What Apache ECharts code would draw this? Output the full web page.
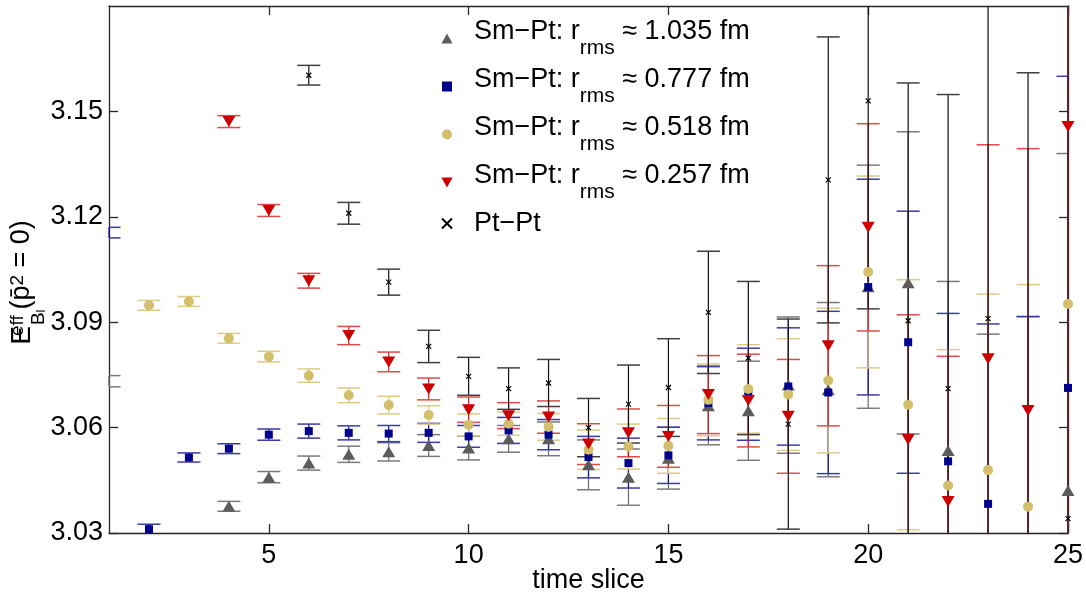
<!DOCTYPE html>
<html>
<head>
<meta charset="utf-8">
<script src="https://cdn.jsdelivr.net/npm/echarts@6/dist/echarts.min.js"></script>
<style>
html,body{margin:0;padding:0;background:#fff;}
#chart{width:1086px;height:594px;}
</style>
</head>
<body>
<div id="chart"></div>
<script>
// ---- data ----
const timeSlices = [1,2,3,4,5,6,7,8,9,10,11,12,13,14,15,16,17,18,19,20,21,22,23,24,25];
const xTickValues = [5,10,15,20,25];
const yTickValues = [3.03,3.06,3.09,3.12,3.15];

const seriesNames = [
  'Sm\u2212Pt: r_rms \u2248 1.035 fm',
  'Sm\u2212Pt: r_rms \u2248 0.777 fm',
  'Sm\u2212Pt: r_rms \u2248 0.518 fm',
  'Sm\u2212Pt: r_rms \u2248 0.257 fm',
  'Pt\u2212Pt'
];

const r1035Val = [3.0732,null,null,3.0376,3.0459,3.0499,3.0524,3.0531,3.0549,3.0542,3.0568,3.0568,3.0494,3.0459,3.0513,3.0662,3.0648,3.0721,3.0708,3.1001,3.1012,3.0535,3.0250,3.0200,3.0421];
const r1035Err = [0.0016,null,null,0.0014,0.0016,0.0020,0.0023,0.0026,0.0031,0.0034,0.0038,0.0048,0.0071,0.0080,0.0088,0.0111,0.0141,0.0194,0.0248,0.0346,0.0430,0.0481,0.0616,0.0716,0.0959];

const r0777Val = [3.1155,3.0311,3.0515,3.0540,3.0580,3.0590,3.0585,3.0583,3.0585,3.0575,3.0592,3.0580,3.0516,3.0499,3.0521,3.0670,3.0695,3.0717,3.0700,3.1000,3.0843,3.0504,3.0383,3.0210,3.0713];
const r0777Err = [0.0015,0.0014,0.0013,0.0014,0.0016,0.0020,0.0020,0.0023,0.0027,0.0031,0.0037,0.0043,0.0059,0.0071,0.0080,0.0105,0.0131,0.0167,0.0231,0.0307,0.0373,0.0421,0.0512,0.0706,0.0887];

const r0518Val = [null,3.0948,3.0959,3.0854,3.0802,3.0748,3.0692,3.0664,3.0636,3.0608,3.0611,3.0602,3.0537,3.0546,3.0548,3.0679,3.0710,3.0694,3.0734,3.1043,3.0665,3.0435,3.0479,3.0375,3.0952];
const r0518Err = [null,0.0014,0.0014,0.0014,0.0015,0.0019,0.0021,0.0025,0.0026,0.0031,0.0033,0.0038,0.0056,0.0064,0.0078,0.0102,0.0126,0.0159,0.0206,0.0273,0.0356,0.0387,0.0501,0.0632,0.0850];

const r0257Val = [null,null,null,3.1471,3.1218,3.1018,3.0862,3.0787,3.0710,3.0651,3.0634,3.0630,3.0553,3.0585,3.0575,3.0694,3.0677,3.0632,3.0833,3.1170,3.0566,3.0390,3.0796,3.0649,3.1457];
const r0257Err = [null,null,null,0.0017,0.0017,0.0021,0.0026,0.0028,0.0031,0.0036,0.0037,0.0046,0.0058,0.0068,0.0088,0.0111,0.0132,0.0162,0.0228,0.0295,0.0355,0.0413,0.0609,0.0745,0.1200];

const ptptVal = [null,null,null,null,null,3.1603,3.1210,3.1014,3.0831,3.0746,3.0711,3.0727,3.0600,3.0667,3.0714,3.0928,3.0798,3.0610,3.1305,3.1530,3.0904,3.0711,3.0910,3.0250,3.0341];
const ptptErr = [null,null,null,null,null,0.0028,0.0031,0.0037,0.0046,0.0054,0.0059,0.0067,0.0083,0.0111,0.0139,0.0174,0.0218,0.0299,0.0407,0.0592,0.0677,0.0837,0.1100,0.1360,0.1600];

// ---- styling ----
const FONT = "'Liberation Sans', Arial, sans-serif";
const AX = '#262626';
const firstMarkerSlice = 2; // markers at the first slice sit on the axis and are not shown
const styles = [
  {color:'#5c5c5c', bar:'#6a6a6a', cap:'#7a7a7a', symbol:'path://M5,0L10,9L0,9Z', size:[13,11]},
  {color:'#00008c', bar:'#10109a', cap:'#3a3aa8', symbol:'path://M0,0H10V10H0Z', size:[8,8]},
  {color:'#d3bf6b', bar:'#d8c67a', cap:'#dccb85', symbol:'circle', size:10},
  {color:'#cc0000', bar:'#d41a1a', cap:'#e04a4a', symbol:'path://M0,0L10,0L5,9Z', size:[13,11]},
  {color:'#000000', bar:'#111111', cap:'#404040', symbol:'path://M0,0L10,10M10,0L0,10', size:[5,5]}
];
const valueSets = [r1035Val, r0777Val, r0518Val, r0257Val, ptptVal];
const errSets = [r1035Err, r0777Err, r0518Err, r0257Err, ptptErr];
const CAP_HALF = 11.5;

function errRender(st){
  return function(params, api){
    const t = api.value(0), v = api.value(1), e = api.value(2);
    const cs = params.coordSys;
    const pT = api.coord([t, v + e]);
    const pB = api.coord([t, v - e]);
    const x = pT[0];
    const yMin = cs.y, yMax = cs.y + cs.height, xMin = cs.x, xMax = cs.x + cs.width;
    const ch = [];
    const y1 = Math.max(pT[1], yMin), y2 = Math.min(pB[1], yMax);
    if (y2 > y1) ch.push({type:'line', shape:{x1:x,y1:y1,x2:x,y2:y2}, style:{stroke:st.bar, lineWidth:1.2}});
    const cx1 = Math.max(x - CAP_HALF, xMin), cx2 = Math.min(x + CAP_HALF, xMax);
    [pT[1], pB[1]].forEach(function(cy){
      if (cy >= yMin - 0.5 && cy <= yMax + 0.5) ch.push({type:'line', shape:{x1:cx1,y1:cy,x2:cx2,y2:cy}, style:{stroke:st.cap, lineWidth:1.5}});
    });
    return {type:'group', children: ch};
  };
}

const series = [];
for (let i = 0; i < 5; i++) {
  const d = [];
  timeSlices.forEach(function(t, k){ if (valueSets[i][k] != null) d.push([t, valueSets[i][k], errSets[i][k]]); });
  series.push({type:'custom', name:'err' + i, silent:true, z:2 + i*0.01, renderItem: errRender(styles[i]), data:d, encode:{x:0, y:1}});
}
for (let i = 0; i < 5; i++) {
  const d = [];
  timeSlices.forEach(function(t, k){ if (valueSets[i][k] != null && t >= firstMarkerSlice) d.push([t, valueSets[i][k]]); });
  const st = styles[i];
  const s = {type:'scatter', name:seriesNames[i], z:5, symbol:st.symbol, symbolSize:st.size, data:d, silent:true,
    itemStyle:{color:st.color, opacity:1}};
  if (i === 4) s.itemStyle = {color:'#000', borderColor:'#000', borderWidth:1.2, opacity:1};
  series.push(s);
}

const chart = echarts.init(document.getElementById('chart'), null, {renderer:'canvas'});
const axisCommon = {
  axisLine:{show:true, onZero:false, lineStyle:{color:AX, width:1.3}},
  splitLine:{show:false}
};
chart.setOption({
  animation:false,
  backgroundColor:'#ffffff',
  textStyle:{fontFamily:FONT},
  grid:{left:109, right:18, top:6, bottom:61, containLabel:false, outerBoundsMode:'none'},
  legend:{
    orient:'vertical', left:441, top:18, padding:0, itemGap:7, selectedMode:false,
    itemWidth:44, itemHeight:10,
    data: seriesNames.map(function(n, i){ return {name:n, icon:styles[i].symbol}; }),
    formatter:function(name){
      if (name.indexOf('_rms') >= 0) {
        const p = name.split('_rms');
        return '{m|' + p[0] + '}{s|rms}{m|' + p[1] + '}{z| }';
      }
      return '{p|' + name + '}{z2| }';
    },
    textStyle:{
      color:'#000', fontFamily:FONT,
      rich:{
        m:{fontSize:27, lineHeight:30, verticalAlign:'top', fontFamily:FONT, color:'#000'},
        s:{fontSize:21, lineHeight:38, verticalAlign:'bottom', fontFamily:FONT, color:'#000'},
        z:{fontSize:10, lineHeight:41, verticalAlign:'top', fontFamily:FONT, color:'#000'},
        p:{fontSize:27, lineHeight:27, verticalAlign:'middle', fontFamily:FONT, color:'#000'},
        z2:{fontSize:10, lineHeight:27, verticalAlign:'top', fontFamily:FONT, color:'#000'}
      }
    }
  },
  xAxis:[
    Object.assign({}, axisCommon, {
      type:'value', min:1, max:25, position:'bottom',
      name:'time slice', nameLocation:'middle', nameGap:34, nameMoveOverlap:false,
      nameTextStyle:{fontSize:27, color:'#000', fontFamily:FONT},
      axisTick:{show:true, inside:true, length:9, customValues:xTickValues, lineStyle:{color:AX, width:1.3}},
      axisLabel:{show:true, customValues:xTickValues, margin:9, fontSize:27, color:'#000', fontFamily:FONT}
    }),
    Object.assign({}, axisCommon, {
      type:'value', min:1, max:25, position:'top',
      axisTick:{show:true, inside:true, length:9, customValues:xTickValues, lineStyle:{color:AX, width:1.3}},
      axisLabel:{show:false}
    })
  ],
  yAxis:[
    Object.assign({}, axisCommon, {
      type:'value', min:3.03, max:3.18, position:'left',
      name:'{e|E}{sup|eff}{sub|B}{ss|l}{m|(p\u0304}{sup2|2}{m| = 0)}',
      nameLocation:'middle', nameRotate:90, nameGap:61, nameMoveOverlap:false,
      nameTextStyle:{
        color:'#000', fontFamily:FONT, padding:[0,26,0,0],
        rich:{
          e:{fontSize:28, lineHeight:30, verticalAlign:'top', fontFamily:FONT, color:'#000'},
          m:{fontSize:27, lineHeight:30, verticalAlign:'top', fontFamily:FONT, color:'#000'},
          sup:{fontSize:19, lineHeight:20, width:1, verticalAlign:'top', fontFamily:FONT, color:'#000'},
          sup2:{fontSize:19, lineHeight:20, verticalAlign:'top', fontFamily:FONT, color:'#000'},
          sub:{fontSize:19, lineHeight:40, verticalAlign:'bottom', fontFamily:FONT, color:'#000'},
          ss:{fontSize:13, lineHeight:40, verticalAlign:'bottom', fontFamily:FONT, color:'#000'}
        }
      },
      axisTick:{show:true, inside:true, length:9, customValues:yTickValues, lineStyle:{color:AX, width:1.3}},
      axisLabel:{show:true, customValues:yTickValues, margin:6, fontSize:27, color:'#000', fontFamily:FONT,
        formatter:function(v){ return Number(v).toFixed(2); }}
    }),
    Object.assign({}, axisCommon, {
      type:'value', min:3.03, max:3.18, position:'right',
      axisTick:{show:true, inside:true, length:9, customValues:yTickValues, lineStyle:{color:AX, width:1.3}},
      axisLabel:{show:false}
    })
  ],
  series: series
});
</script>
</body>
</html>
